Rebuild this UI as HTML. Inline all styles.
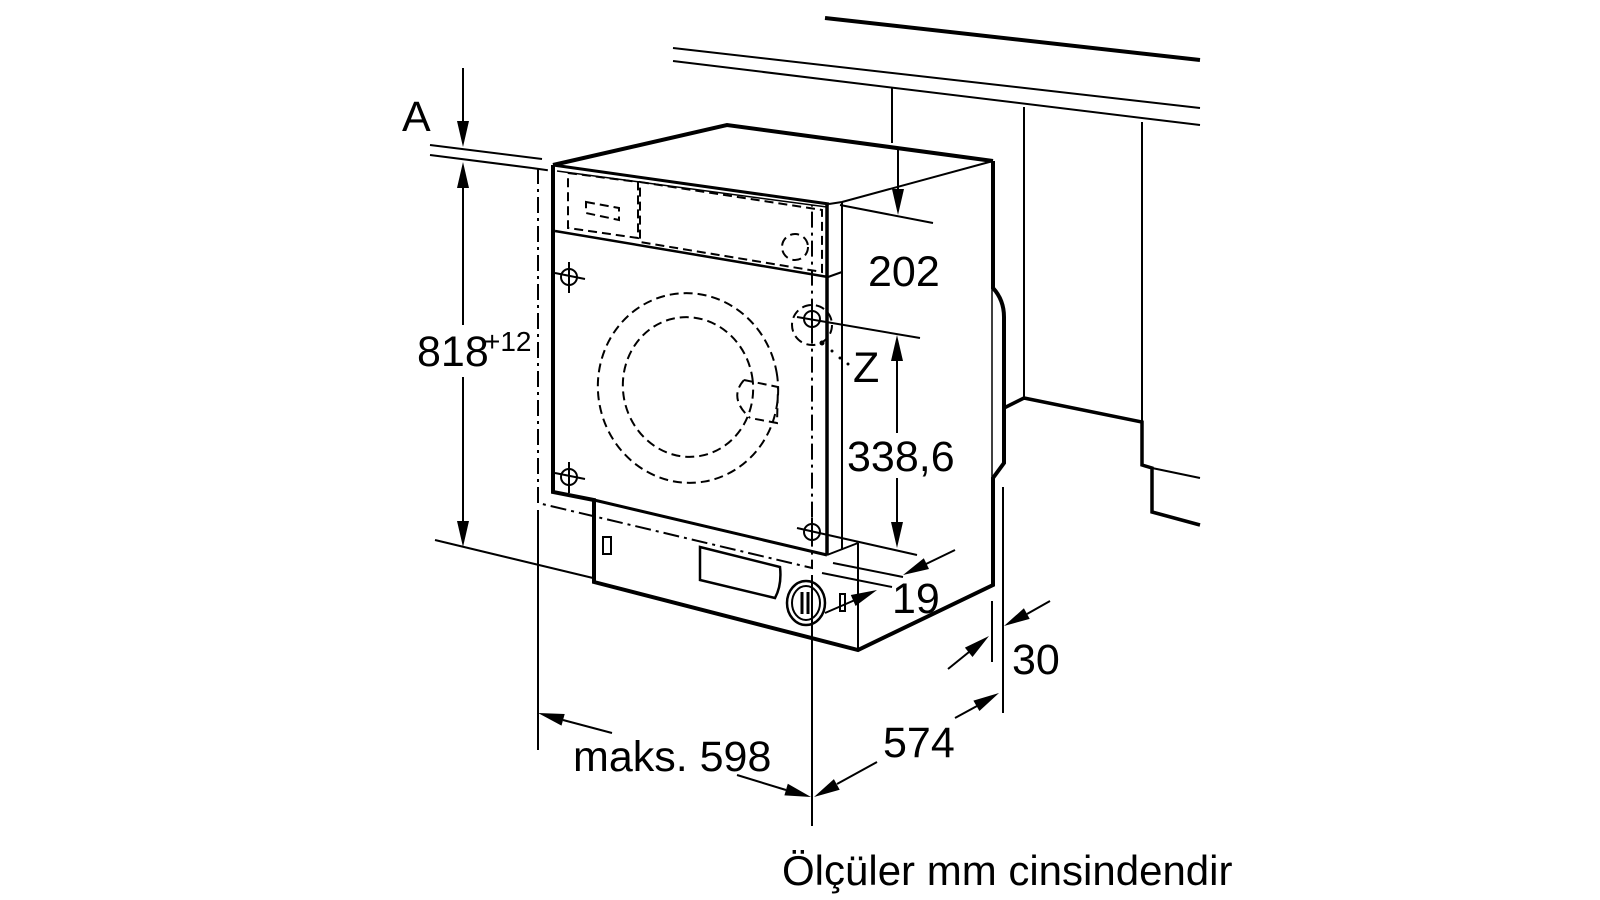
<!DOCTYPE html>
<html><head><meta charset="utf-8"><style>
html,body{margin:0;padding:0;background:#fff;width:1600px;height:900px;overflow:hidden}
svg text{font-family:"Liberation Sans",sans-serif;fill:#000}
</style></head><body>
<svg width="1600" height="900" viewBox="0 0 1600 900" xmlns="http://www.w3.org/2000/svg">
<g stroke="#000" fill="none" stroke-linecap="butt" stroke-linejoin="miter">
<!-- cabinet -->
<line x1="825" y1="18" x2="1200" y2="60" stroke-width="4"/>
<line x1="673" y1="48" x2="1200" y2="108" stroke-width="2"/>
<line x1="673" y1="61" x2="1200" y2="125" stroke-width="2"/>
<line x1="892" y1="88" x2="892" y2="143" stroke-width="2"/>
<line x1="1024" y1="107" x2="1024" y2="398" stroke-width="2"/>
<line x1="1142" y1="122" x2="1142" y2="422" stroke-width="2"/>
<polyline points="1004,408 1024,398 1142,422 1142,465 1152,468 1152,512 1200,525" stroke-width="3.5"/>
<line x1="1152" y1="468" x2="1200" y2="478" stroke-width="2"/>
<!-- machine outline -->
<polyline points="553,165 727,125 993,161" stroke-width="4"/>
<path d="M993,161 L993,288 Q1004,300 1004,317 L1004,463 L993,478 L993,585 L858,650 L594,582 L594,500 L553,492 L553,165" stroke-width="4"/>
<line x1="992" y1="288" x2="992" y2="478" stroke-width="1.5"/>
<line x1="553" y1="165" x2="829" y2="204" stroke-width="3"/>
<line x1="557" y1="171" x2="827" y2="207" stroke-width="1.5"/>
<line x1="842" y1="202" x2="993" y2="161" stroke-width="2"/>
<line x1="829" y1="204" x2="842" y2="202" stroke-width="2"/>
<line x1="827" y1="204" x2="827" y2="555" stroke-width="3.5"/>
<line x1="842" y1="202" x2="842" y2="550" stroke-width="2"/>
<line x1="555" y1="231" x2="828" y2="277" stroke-width="2.5"/>
<line x1="828" y1="277" x2="842" y2="272" stroke-width="2"/>
<line x1="594" y1="500" x2="827" y2="555" stroke-width="3"/>
<line x1="827" y1="555" x2="858" y2="543" stroke-width="2"/>
<line x1="858" y1="543" x2="858" y2="650" stroke-width="2"/>
<!-- dashed panel -->
<g stroke-dasharray="9,5" stroke-width="2">
<polygon points="568,173 638,182 638,238 568,228"/>
<polygon points="586,202 619,208 619,220 586,213"/>
<polygon points="640,182 822,210 822,272 640,242"/>
<circle cx="795" cy="247" r="13"/>
<ellipse cx="688" cy="388" rx="90" ry="95" transform="rotate(-10 688 388)"/>
<ellipse cx="688" cy="387" rx="65" ry="70" transform="rotate(-10 688 387)"/>
<polyline points="744,380 778,387 777,423 750,418"/>
<path d="M744,380 Q728,398 750,418"/>
<circle cx="812" cy="325" r="20"/>
</g>
<!-- dash-dot outline -->
<g stroke-dasharray="16,5,3,5" stroke-width="2">
<polyline points="538,168 538,503 812,568 812,205"/>
<line x1="532" y1="168" x2="553" y2="171"/>
</g>
<!-- crosshairs -->
<g stroke-width="2">
<circle cx="569" cy="277" r="8"/><line x1="555" y1="273" x2="585" y2="279"/><line x1="569" y1="262" x2="569" y2="293"/>
<circle cx="569" cy="477" r="8"/><line x1="555" y1="473" x2="585" y2="479"/><line x1="569" y1="462" x2="569" y2="493"/>
<circle cx="812" cy="532" r="8"/><line x1="797" y1="528" x2="917" y2="555"/><line x1="812" y1="518" x2="812" y2="546"/>
<circle cx="812" cy="319" r="8"/><line x1="797" y1="317" x2="920" y2="338"/><line x1="812" y1="305" x2="812" y2="334"/>
</g>
<g fill="#000" stroke="none"><circle cx="822" cy="343" r="2.5"/><circle cx="832" cy="351" r="1.5"/><circle cx="840" cy="358" r="1.5"/><circle cx="848" cy="364" r="1.5"/></g>
<!-- plinth details -->
<rect x="603" y="537" width="8" height="17" stroke-width="2"/>
<path d="M700,547 L780,567 Q782,585 775,598 L700,580 Z" stroke-width="2.5"/>
<ellipse cx="806" cy="603" rx="19" ry="22" stroke-width="2.5"/>
<ellipse cx="806" cy="603" rx="14" ry="17" stroke-width="2"/>
<line x1="802" y1="592" x2="802" y2="614" stroke-width="3"/><line x1="808" y1="592" x2="808" y2="614" stroke-width="3"/>
<rect x="840" y="594" width="5" height="17" stroke-width="2"/>
<line x1="825" y1="613" x2="855" y2="600" stroke-width="2"/>
<!-- dimension lines -->
<g stroke-width="2">
<line x1="430" y1="145" x2="542" y2="159"/>
<line x1="430" y1="155" x2="532" y2="168"/>
<line x1="463" y1="68" x2="463" y2="122"/>
<line x1="463" y1="186" x2="463" y2="325"/>
<line x1="463" y1="377" x2="463" y2="522"/>
<line x1="435" y1="540" x2="593" y2="578"/>
<line x1="840" y1="205" x2="933" y2="223"/>
<line x1="898" y1="150" x2="898" y2="190"/>
<line x1="897" y1="360" x2="897" y2="433"/>
<line x1="897" y1="478" x2="897" y2="523"/>
<line x1="833" y1="563" x2="903" y2="577"/>
<line x1="822" y1="573" x2="892" y2="587"/>
<line x1="926" y1="564" x2="955" y2="550"/>
<line x1="538" y1="510" x2="538" y2="750"/>
<line x1="812" y1="575" x2="812" y2="826"/>
<line x1="1003" y1="487" x2="1003" y2="713"/>
<line x1="992" y1="601" x2="992" y2="662"/>
<g transform="translate(0,-8)">
<line x1="948" y1="677" x2="969" y2="660"/>
<line x1="1050" y1="609" x2="1027" y2="622"/>
</g>
<g transform="translate(0,-12)">
<line x1="955" y1="730" x2="977" y2="718"/>
<line x1="877" y1="774" x2="837" y2="796"/>
<line x1="612" y1="745" x2="563" y2="732"/>
<line x1="737" y1="787" x2="786" y2="802"/>
</g>
</g>
</g>
<g fill="#000">
<polygon points="463,147 457,121 469,121"/>
<polygon points="463,162 457,188 469,188"/>
<polygon points="463,547 457,521 469,521"/>
<polygon points="898,215 892,189 904,189"/>
<polygon points="897,335 891,361 903,361"/>
<polygon points="897,548 891,522 903,522"/>
<polygon points="903,575 929,569 923.8,558.3"/>
<polygon points="877,590 855.6,606 850.8,595"/>
<g transform="translate(0,-8)">
<polygon points="989,644 972.5,665 964.9,655.6"/>
<polygon points="1004,634 1029.7,626.9 1023.9,616.3"/>
</g>
<g transform="translate(0,-12)">
<polygon points="999,705 979.4,723 973.4,712.6"/>
<polygon points="814,809 839.7,801.7 833.9,791.1"/>
<polygon points="538,725 561.5,737.6 564.7,726"/>
<polygon points="811,809 787.8,795.8 784.4,807.4"/>
</g>
</g>
<g font-size="43">
<text x="402" y="131">A</text>
<text x="417" y="366">818</text>
<text x="484" y="351" font-size="28">+12</text>
<text x="868" y="286">202</text>
<text x="853" y="382">Z</text>
<text x="847" y="471">338,6</text>
<text x="892" y="613">19</text>
<text x="1012" y="674">30</text>
<text x="883" y="757">574</text>
<text x="573" y="771">maks. 598</text>
<text x="782" y="885" font-size="42">Ölçüler mm cinsindendir</text>
</g>
</svg>
</body></html>
